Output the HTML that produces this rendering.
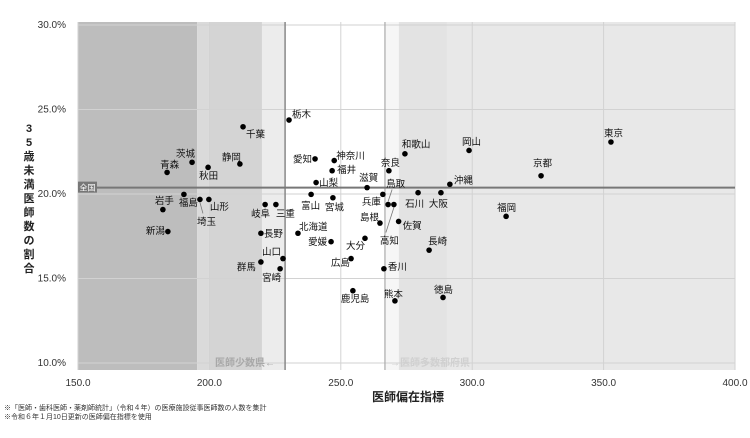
<!DOCTYPE html>
<html><head><meta charset="utf-8">
<style>
html,body{margin:0;padding:0;background:#fff;}
svg{display:block;font-family:"Liberation Sans","Noto Sans CJK JP",sans-serif;}
</style></head>
<body>
<svg id="chart" width="750" height="438" viewBox="0 0 750 438">
<g id="bands"></g><g id="grid"></g><g id="refs"></g><g id="axes"></g><g id="marks"></g>
<text x="245" y="366" font-size="10" font-weight="bold" fill="#a8a8a8" text-anchor="middle">医師少数県←</text>
<text x="430" y="366" font-size="10" font-weight="bold" fill="#d0d0d0" text-anchor="middle">→医師多数都府県</text>
<text x="408" y="401" font-size="12" font-weight="bold" fill="#222" text-anchor="middle">医師偏在指標</text>
<text font-size="11" font-weight="bold" fill="#222" text-anchor="middle">
<tspan x="29" y="132">3</tspan><tspan x="29" y="146">5</tspan><tspan x="29" y="160">歳</tspan><tspan x="29" y="174">未</tspan><tspan x="29" y="188">満</tspan><tspan x="29" y="202">医</tspan><tspan x="29" y="216">師</tspan><tspan x="29" y="230">数</tspan><tspan x="29" y="244">の</tspan><tspan x="29" y="258">割</tspan><tspan x="29" y="272">合</tspan></text>
<text x="4" y="410" font-size="7" fill="#333">※「医師・歯科医師・薬剤師統計」（令和４年）の医療施設従事医師数の人数を集計</text>
<text x="4" y="419" font-size="7" fill="#333">※令和６年１月10日更新の医師偏在指標を使用</text>
</svg>
<script>
const prefNames=["東京","岡山","京都","和歌山","福岡","沖縄","大阪","石川","奈良","鳥取","高知","兵庫","島根","佐賀","長崎","香川","熊本","徳島","鹿児島","広島","大分","愛媛","北海道","宮城","富山","山梨","滋賀","福井","神奈川","愛知","栃木","千葉","静岡","秋田","茨城","青森","岩手","福島","埼玉","山形","新潟","岐阜","三重","長野","山口","群馬","宮崎"];
const indexValues=[352.8,298.8,326.2,274.4,312.9,291.5,288.1,279.4,268.3,268.0,270.2,266.0,264.9,272.0,283.6,266.4,270.6,288.9,254.6,253.9,259.2,246.3,233.7,247.0,238.7,240.6,260.0,246.7,247.5,240.2,230.3,212.8,211.6,199.5,193.4,183.9,182.3,190.3,196.4,199.8,184.2,221.2,225.3,219.6,228.0,219.6,226.9];
const youngShare=[22.9,22.4,20.9,22.2,18.5,20.4,19.9,19.9,21.2,19.2,19.2,19.8,18.1,18.2,16.5,15.4,13.5,13.7,14.1,16.0,17.2,17.0,17.5,19.6,19.8,20.5,20.2,21.2,21.8,21.9,24.2,23.8,21.6,21.4,21.7,21.1,18.9,19.8,19.5,19.5,17.6,19.2,19.2,17.5,16.0,15.8,15.4];
const xTicks=[150,200,250,300,350,400];
const yTicks=[10,15,20,25,30];
const nationalShare=20.2;
const fewThreshold=228.8;
const manyThreshold=266.8;
const lo=[[-7,-9],[-7,-9],[-8,-13],[-3,-10],[-9,-9],[4,-4],[-12,11],[-13,11],[-8,-8],[-2,-21],[-14,36],[-21,7],[-20,-6],[4,4],[-1,-9],[4,-2],[-11,-7],[-9,-8],[-12,8],[-20,4],[-19,7],[-23,0],[1,-7],[-8,9],[-10,11],[3,0],[-8,-10],[5,-1],[2,-5],[-22,0],[3,-6],[3,7],[-18,-7],[-9,8],[-16,-9],[-7,-8],[-8,-9],[-5,8],[-3,22],[1,7],[-22,-1],[-14,9],[0,9],[3,0],[-21,-7],[-24,5],[-18,9]];
const leaders={9:true,10:true,38:true};
const X=v=>78+(v-150)*(735-78)/250;
const Y=v=>191+(20-v)*16.9;
const NS="http://www.w3.org/2000/svg";
function mk(parent,tag,attrs){const e=document.createElementNS(NS,tag);for(const k in attrs)e.setAttribute(k,attrs[k]);document.getElementById(parent).appendChild(e);return e;}
const plotTop=22,plotBot=370;
const bandDefs=[[150,195.3,"#bdbdbd"],[195.3,199.8,"#dadada"],[199.8,220,"#d4d4d4"],[220,fewThreshold,"#ececec"],[fewThreshold,manyThreshold,"#ffffff"],[manyThreshold,272.1,"#f6f6f6"],[272.1,290.4,"#e3e3e3"],[290.4,400,"#e8e8e8"]];
bandDefs.forEach(b=>{const r=mk("bands","rect",{x:X(b[0]),y:plotTop,width:X(b[1])-X(b[0]),height:plotBot-plotTop,fill:b[2]});

});
xTicks.forEach(t=>{const l=mk("grid","line",{x1:X(t),x2:X(t),y1:plotTop,y2:plotBot,stroke:"#d2d2d2","stroke-width":1});


const tx=mk("axes","text",{x:X(t),y:386,"font-size":10,fill:"#333","text-anchor":"middle"});


tx.textContent=t.toFixed(1);});
yTicks.forEach(t=>{const l=mk("grid","line",{x1:78,x2:735,y1:Y(t)+3,y2:Y(t)+3,stroke:"#d2d2d2","stroke-width":1});


const tx=mk("axes","text",{x:66,y:Y(t)+6,"font-size":10,fill:"#333","text-anchor":"end"});


tx.textContent=t.toFixed(1)+"%";});
const r1=mk("refs","line",{x1:X(fewThreshold),x2:X(fewThreshold),y1:plotTop,y2:plotBot,stroke:"#888","stroke-width":1.5});


const r2=mk("refs","line",{x1:X(manyThreshold),x2:X(manyThreshold),y1:plotTop,y2:plotBot,stroke:"#aaa","stroke-width":1.2});


const r3=mk("refs","line",{x1:78,x2:735,y1:Y(nationalShare),y2:Y(nationalShare),stroke:"#777","stroke-width":2});


const nb=mk("refs","rect",{x:78,y:Y(nationalShare)-6,width:19,height:11,fill:"#777"});


const nt=mk("refs","text",{x:87.5,y:Y(nationalShare)+3,"font-size":8,fill:"#fff","text-anchor":"middle"});


nt.textContent="全国";
prefNames.forEach((n,i)=>{const cx=X(indexValues[i]),cy=Y(youngShare[i]);
const c=mk("marks","circle",{cx:cx,cy:cy,r:2.8,fill:"#000"});


const o=lo[i];
if(leaders[i]){const ln=mk("marks","line",{x1:cx,y1:cy+(o[1]>0?3:-3),x2:cx+o[0]+6,y2:cy+o[1]+(o[1]>0?-8:6),stroke:"#777","stroke-width":0.8});

}
const t=mk("marks","text",{x:cx+o[0],y:cy+o[1]+3.5,"font-size":9.5,fill:"#111"});


t.textContent=n;});
</script>
</body></html>
